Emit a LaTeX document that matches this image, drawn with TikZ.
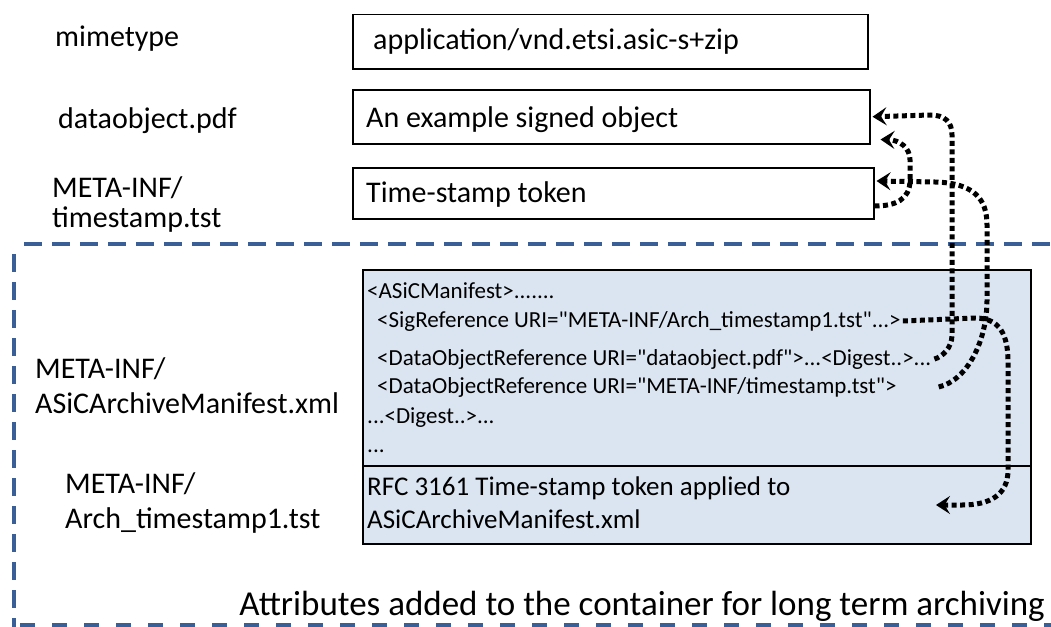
\documentclass[tikz,border=0pt]{standalone}
\usepackage{fontspec}
\setmainfont{Carlito}
\usetikzlibrary{arrows.meta}
\definecolor{frameblue}{RGB}{58,94,150}
\definecolor{panelblue}{RGB}{219,229,241}
\newcommand{\qq}{\textquotedbl}
\begin{document}
\begin{tikzpicture}[x=1pt,y=-1pt,
  lbl/.style={inner sep=0pt, anchor=base west, font=\fontsize{30}{30}\selectfont},
  rfc/.style={inner sep=0pt, anchor=base west, font=\fontsize{27}{27}\selectfont},
  xml/.style={inner sep=0pt, anchor=base west, font=\fontsize{23}{23}\selectfont},
  note/.style={inner sep=0pt, anchor=base east, font=\fontsize{35}{35}\selectfont},
  filebox/.style={draw, line width=1.5pt, inner sep=0pt, anchor=north west},
  region/.style={frameblue, line width=4pt, dash pattern=on 18pt off 10pt, dash phase=18pt},
  ref/.style={line width=5pt, dash pattern=on 5pt off 3.5pt,
    -{Stealth[length=14pt,width=18pt,inset=5.5pt]}}
]
\useasboundingbox (0,0) rectangle (1051,626);

% archive region (open to the right)
\draw[region] (14,244) -- (1060,244);
\draw[region] (14,244) -- (14,632);
\draw[region, dash pattern=on 15pt off 17pt, dash phase=0pt] (20,625) -- (1060,625);

% top-level files
\node[lbl] (mimename) at (55,47) {mimetype};
\node[filebox, minimum width=515pt, minimum height=54pt] (mimebox) at (352,14) {};
\node[lbl] (mimetext) at (373,50) {application/vnd.etsi.asic-s+zip};

\node[lbl] (dataname) at (58,128) {dataobject.pdf};
\node[filebox, minimum width=517pt, minimum height=54pt] (databox) at (352,89) {};
\node[lbl] (datatext) at (366,127) {An example signed object};

\node[lbl] (tstdir) at (52,197) {META-INF/};
\node[lbl] (tstname) at (52,227) {timestamp.tst};
\node[filebox, minimum width=521pt, minimum height=51pt] (tstbox) at (352,167) {};
\node[lbl] (tsttext) at (366,202) {Time-stamp token};

% archive manifest and archive time-stamp
\node[lbl] (mfdir) at (35,378) {META-INF/};
\node[lbl] (mfname) at (35,413) {ASiCArchiveManifest.xml};
\node[lbl] (atsdir) at (65,493) {META-INF/};
\node[lbl] (atsname) at (65,528) {Arch\_timestamp1.tst};

\node[filebox, fill=panelblue, minimum width=668pt, minimum height=274pt] (panel) at (362,269) {};
\draw[line width=1.5pt] (panel.west |- 0,466) -- (panel.east |- 0,466);

\node[xml] (mfopen) at (367,298) {<ASiCManifest>.......};
\node[xml] (sigref) at (377,327) {<SigReference URI=\qq META-INF/Arch\_timestamp1.tst\qq...>};
\node[xml] (pdfref) at (377,365) {<DataObjectReference URI=\qq dataobject.pdf\qq>...<Digest..>...};
\node[xml] (tstref) at (377,393) {<DataObjectReference URI=\qq META-INF/timestamp.tst\qq>};
\node[xml] (digest) at (367,423) {...<Digest..>...};
\node[xml] (mfmore) at (367,452) {...};

\node[rfc] (rfcline1) at (367,495) {RFC 3161 Time-stamp token applied to};
\node[rfc] (rfcline2) at (367,528) {ASiCArchiveManifest.xml};

\node[note] (caption) at (1045,615) {Attributes added to the container for long term archiving};

% references between the entries
\coordinate (rfctip) at (936,505);
\coordinate (tstrefend) at ([xshift=42pt]tstref.east);
\draw[ref] ([xshift=2pt]sigref.east) -- (975,318) .. controls (1000,318) and (1008,335) .. (1008,362)
  -- (1008,470) .. controls (1008,495) and (990,505) .. (962,505) -- (rfctip);
\draw[ref] ([xshift=3pt]pdfref.east) .. controls (942,357) and (952,348) .. (952,335)
  -- (952,135) .. controls (952,122) and (945,115) .. (930,115) -- ([xshift=2pt]databox.east);
\draw[ref] (tstrefend) .. controls (968,380) and (987,340) .. (987,300)
  -- (987,225) .. controls (987,200) and (975,183) .. (935,182) -- ([xshift=2pt]tstbox.east |- 0,181);
\draw[ref] (tstbox.east |- 0,206) .. controls (895,206) and (910,200) .. (910,180)
  -- (910,160) .. controls (910,148) and (900,140) .. ([shift={(10,-5)}]databox.south east);
\end{tikzpicture}
\end{document}
